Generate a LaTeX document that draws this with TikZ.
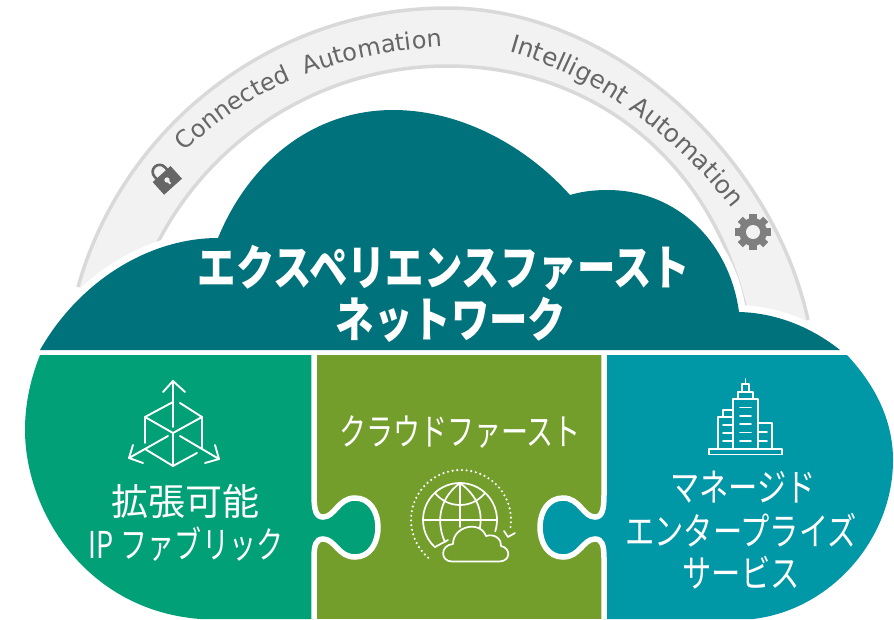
\documentclass[tikz,border=0pt]{standalone}
\usepackage{fontspec}
\usetikzlibrary{decorations.text}
\newfontfamily\jptitle[FakeStretch=0.8]{Noto Sans CJK JP}
\newfontfamily\jpfont[FakeStretch=0.73]{Noto Sans CJK JP}
\newfontfamily\jpwide[FakeStretch=0.77]{Noto Sans CJK JP}
\newfontfamily\jpkanji{Noto Sans CJK JP}
\newfontfamily\arcfont{DejaVu Sans}
\definecolor{cloudteal}{HTML}{00727B}
\definecolor{pgreen}{HTML}{02A076}
\definecolor{polive}{HTML}{739E2B}
\definecolor{pteal}{HTML}{0097A7}
\definecolor{bandfill}{HTML}{F2F2F2}
\definecolor{bandedge}{HTML}{D9D9D9}
\definecolor{arctext}{HTML}{666666}
\definecolor{gearcol}{HTML}{7F7F7F}
\def\outeredge{(78,287) .. controls (124,123) and (276,8) .. (447,8) .. controls (615,8) and (773,158) .. (808,320)}
\def\inneredge{(750,330) .. controls (722,170) and (600,66) .. (447,66) .. controls (303,66) and (175,162) .. (135,300)}
\def\cloudpath{(40,350) .. controls (80,280) and (150,238) .. (218,238)
  .. controls (250,160) and (315,110) .. (393,110) .. controls (460,110) and (525,145) .. (570,195)
  .. controls (580,192) and (592,190) .. (607,190) .. controls (680,190) and (730,245) .. (739,312)
  .. controls (780,313) and (815,330) .. (840,350) -- cycle}
\def\seamL{(314,355) -- (314,495) .. controls (314,510) and (316,517) .. (323,517) .. controls (335,517) and (338,498) .. (355,498) .. controls (370,498) and (378,512) .. (378,527) .. controls (378,543) and (370,557) .. (355,557) .. controls (338,557) and (335,539) .. (323,539) .. controls (316,539) and (314,545) .. (314,558) -- (314,619)}
\def\seamR{(604,355) -- (604,495) .. controls (604,510) and (602,517) .. (595,517) .. controls (583,517) and (580,498) .. (563,498) .. controls (548,498) and (540,512) .. (540,527) .. controls (540,543) and (548,557) .. (563,557) .. controls (580,557) and (583,539) .. (595,539) .. controls (602,539) and (604,545) .. (604,558) -- (604,619)}
\tikzset{
  x=1pt,y=-1pt,
  titletext/.style={text=white,align=center,font=\jptitle\bfseries\fontsize{48}{52}\selectfont},
  bodytext/.style={text=white,align=center,font=\jpfont\fontsize{37}{43}\selectfont},
  widetext/.style={text=white,align=center,font=\jpwide\fontsize{38}{43}\selectfont},
  icon/.style={draw=white,line width=1.9pt,line cap=round,line join=round},
  seam/.style={draw=white,line width=5.5pt,line cap=butt},
}
\begin{document}
\begin{tikzpicture}
\useasboundingbox (0,0) rectangle (894,619);
% band
\fill[bandfill] \outeredge -- \inneredge -- cycle;
\draw[bandedge,line width=3.5pt] \outeredge;
\draw[bandedge,line width=3.5pt] \inneredge;
% band texts
\path[decorate,decoration={text along path,text={|\arcfont\fontsize{24}{24}\selectfont\color{arctext}|Connected{ }{ }Automation}}]
  (185,152) .. controls (248,88) and (340,50) .. (460,46);
\path[decorate,decoration={text along path,text={|\arcfont\fontsize{24.8}{24}\selectfont\color{arctext}|Intelligent{ }Automation}}]
  (509,52) .. controls (590,75) and (675,130) .. (745,225);
% lock
\begin{scope}[shift={(167,180)},rotate=42]
  \draw[arctext,line width=2.6pt] (-7,-7) -- (-7,-11) arc[start angle=180,end angle=360,radius=7] -- (7,-7);
  \fill[arctext] (-12,-8) rectangle (12,9);
  \fill[bandfill] (0,0) circle (2.6);
  \fill[bandfill] (-1,0) rectangle (1,5);
\end{scope}
% gear
\begin{scope}[shift={(753,232)}]
  \foreach \a in {0,45,...,315}{
    \fill[gearcol,rotate=\a] (-3.6,-18) rectangle (3.6,0);
  }
  \fill[gearcol] (0,0) circle (14);
  \fill[bandfill] (0,0) circle (7);
\end{scope}
% cloud
\draw[white,line width=14pt,line join=round] \cloudpath;
\fill[white] (0,350) rectangle (894,355);
\fill[cloudteal] \cloudpath;
% pieces
\fill[polive] (311,355) rectangle (607,619);
\fill[pgreen] \seamL -- (200,619) .. controls (85,610) and (25,510) .. (25,430) .. controls (25,405) and (30,380) .. (40,355) -- cycle;
\fill[pteal] \seamR -- (753,619) .. controls (830,610) and (893,540) .. (893,460) .. controls (893,420) and (875,385) .. (847,355) -- cycle;
\draw[seam] \seamL;
\draw[seam] \seamR;
% texts
\node[titletext] (title1) at (444,268) {エクスペリエンスファースト};
\node[titletext] (title2) at (451,320) {ネットワーク};
\node[text=white,font=\jpkanji\fontsize{37}{37}\selectfont] (scale) at (185,501) {拡張可能};
\node[bodytext] (ipf) at (186,544) {IP\hspace{7pt}ファブリック};
\node[bodytext] (cloudfirst) at (460,432) {クラウドファースト};
\node[widetext] (m1) at (743,487) {マネージド};
\node[widetext] (m2) at (741,530) {エンタープライズ};
\node[widetext] (m3) at (741,573) {サービス};
% cube icon
\begin{scope}[icon]
  \draw (173,427) -- (173,381);
  \draw (163,392) -- (173,381) -- (185,392);
  \draw (173,402) -- (145,417) -- (145,443);
  \draw (180,403) -- (202,417) -- (202,448);
  \draw (145,417) -- (173,433) -- (202,417);
  \draw (173,433) -- (173,466);
  \draw (168,436) -- (129,458);
  \draw (133,445) -- (129,458) -- (143,463);
  \draw (180,436) -- (219,459);
  \draw (215,445) -- (219,459) -- (205,463);
  \draw (145,449) -- (173,466) -- (197,453);
\end{scope}
% globe icon
\begin{scope}[icon,line width=1.7pt]
  \draw (460,520) ++(18:37) arc[start angle=18,end angle=-227,radius=37];
  \draw (423,520) -- (497,520);
  \draw (460,483) -- (460,527);
  \draw (435,493) .. controls (448,509) and (472,509) .. (485,493);
  \draw (460,483) .. controls (437,500) and (437,525) .. (445,542);
  \draw (460,483) .. controls (483,500) and (483,520) .. (478,535);
  \draw (435,547) -- (448,540);
  \draw[fill=polive] (452,561.5) .. controls (440,561.5) and (440,545) .. (453,544)
     .. controls (453,526) and (480,520) .. (486,536)
     .. controls (495,533) and (502,540) .. (501,546)
     .. controls (511,548) and (511,561.5) .. (499,561.5) -- cycle;
\end{scope}
\draw[white,line width=2.4pt,line cap=round,dash pattern=on 0pt off 4.7pt] (461,520) ++(131:50) arc[start angle=131,end angle=372,radius=50];
\draw[icon,line width=1.7pt] (504,531) -- (508,537) -- (515,533);
% building icon
\begin{scope}[icon,line width=1.6pt]
  \draw (709,449) rectangle (782,454.5);
  \draw (733,449) -- (733,399) -- (758,399) -- (758,449);
  \draw (738,399) -- (738,392) -- (753,392) -- (753,399);
  \draw (742,392) -- (742,384) -- (749,384) -- (749,392);
  \draw (745.5,384) -- (745.5,379);
  \draw (718,449) -- (718,417) -- (733,417);
  \draw (723,417) -- (723,410) -- (733,410);
  \draw (758,423) -- (772,423) -- (772,449);
  \foreach \yy in {407.3,415.7,424,432.3,440.7}{\draw (740,\yy) -- (751,\yy);}
  \foreach \yy in {425,433,440.7}{\draw (723,\yy) -- (733,\yy);}
  \foreach \yy in {432,440.7}{\draw (758,\yy) -- (767,\yy);}
\end{scope}
\end{tikzpicture}
\end{document}
